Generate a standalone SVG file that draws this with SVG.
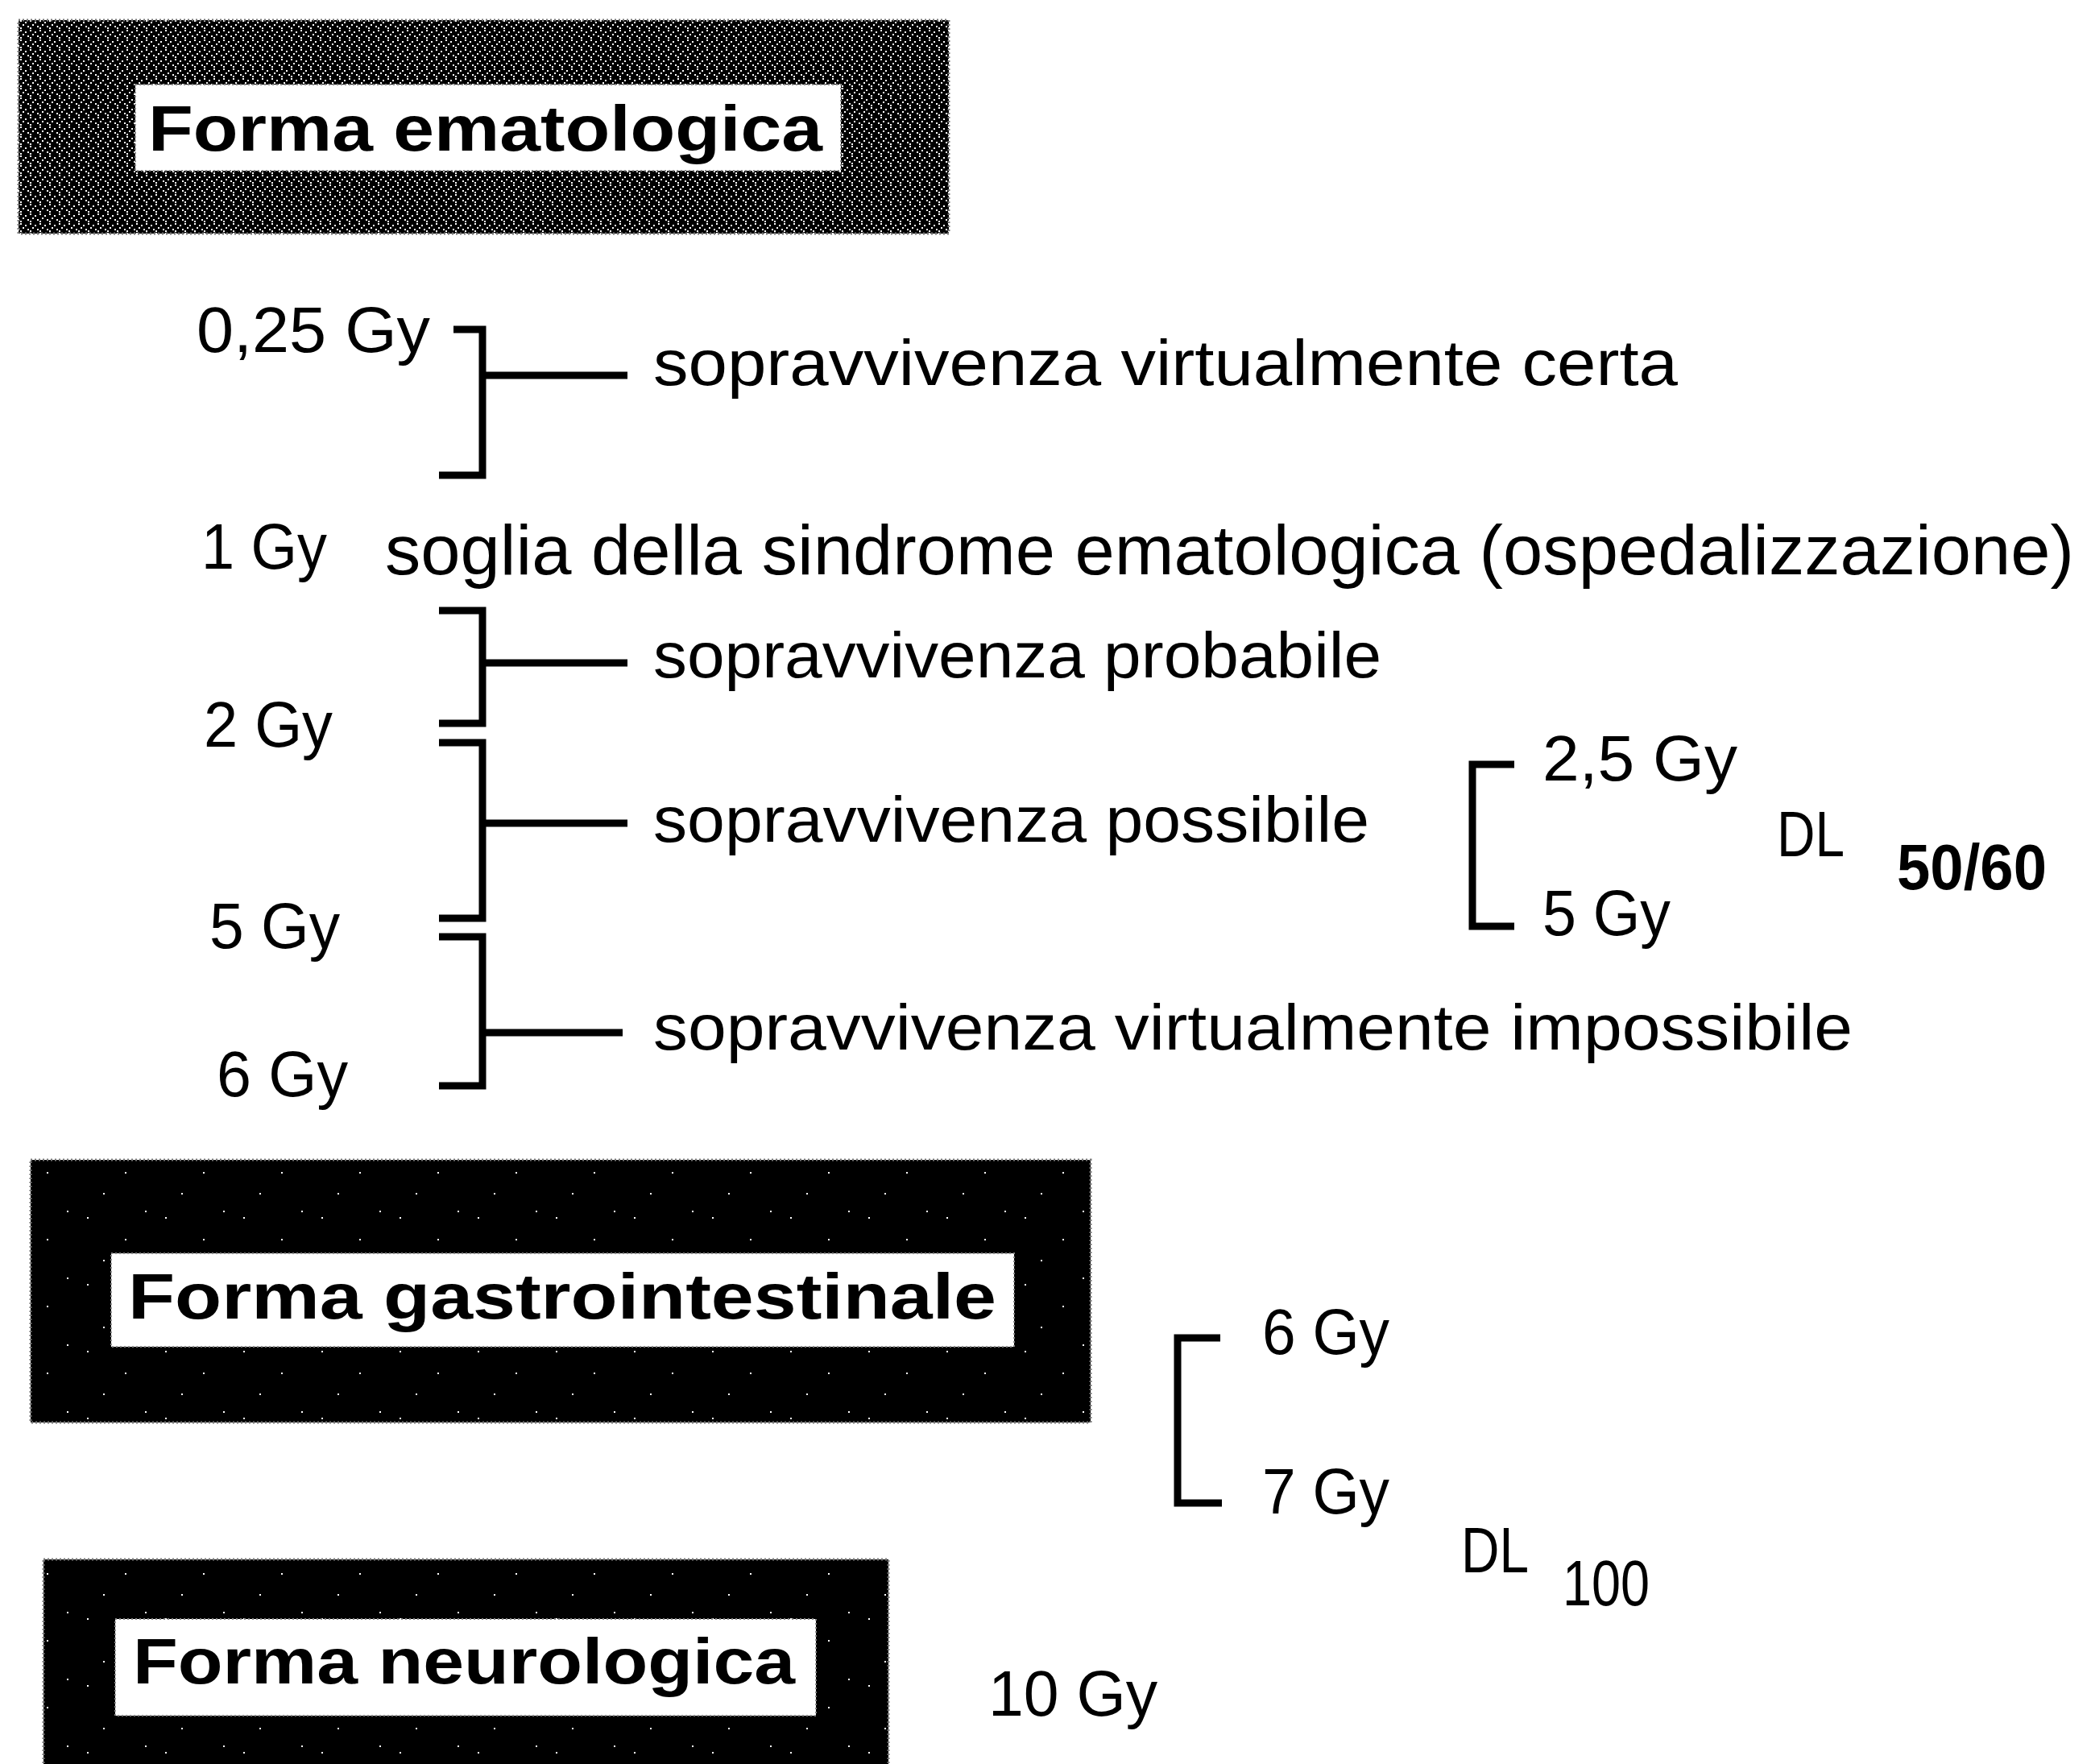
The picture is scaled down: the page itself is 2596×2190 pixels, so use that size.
<svg xmlns="http://www.w3.org/2000/svg" width="2596" height="2190" viewBox="0 0 2596 2190">
<defs>
<pattern id="tex1" width="12" height="12" patternUnits="userSpaceOnUse">
<rect width="12" height="12" fill="#000"/>
<rect x="1" y="1" width="2" height="2" fill="#fff"/>
<rect x="7" y="3" width="2" height="2" fill="#fff"/>
<rect x="4" y="6" width="2" height="2" fill="#fff"/>
<rect x="10" y="8" width="2" height="2" fill="#fff"/>
<rect x="1" y="10" width="2" height="2" fill="#fff"/>
</pattern>
<pattern id="tex2" width="97" height="83" patternUnits="userSpaceOnUse">
<rect width="97" height="83" fill="#000"/>
<rect x="11" y="17" width="2" height="2" fill="#fff"/>
<rect x="58" y="44" width="2" height="2" fill="#fff"/>
<rect x="83" y="9" width="2" height="2" fill="#fff"/>
<rect x="31" y="70" width="2" height="2" fill="#fff"/>
</pattern>
<style>
.t{font-family:"Liberation Sans",Arial,sans-serif;font-size:80px;fill:#000}
.s{font-size:88px}
.b{font-family:"Liberation Sans",Arial,sans-serif;font-size:80px;font-weight:bold;fill:#000}
.br{fill:none;stroke:#000;stroke-width:9;stroke-linecap:butt;stroke-linejoin:miter}
.ln{stroke:#000;stroke-width:9}
.edge{stroke:#777;stroke-width:3;stroke-dasharray:2 3}
.inner{fill:#fff;stroke:#888;stroke-width:2;stroke-dasharray:2 3}
</style>
</defs>
<rect width="2596" height="2190" fill="#fff"/>

<g id="box-ematologica">
<rect x="23" y="25" width="1155" height="265" fill="url(#tex1)" class="edge"/>
<rect x="168" y="105" width="876" height="107" class="inner"/>
<text class="b" x="184" y="187" textLength="837" lengthAdjust="spacingAndGlyphs">Forma ematologica</text>
</g>

<g id="box-gastrointestinale">
<rect x="38" y="1440" width="1316" height="326" fill="url(#tex2)" class="edge"/>
<rect x="138" y="1556" width="1121" height="116" class="inner"/>
<text class="b" x="159" y="1637" textLength="1078" lengthAdjust="spacingAndGlyphs">Forma gastrointestinale</text>
</g>

<g id="box-neurologica">
<rect x="54" y="1936" width="1049" height="260" fill="url(#tex2)" class="edge"/>
<rect x="143" y="2010" width="870" height="120" class="inner"/>
<text class="b" x="165" y="2090" textLength="822" lengthAdjust="spacingAndGlyphs">Forma neurologica</text>
</g>

<g id="connectors">
<path class="br" d="M563,409 H599 V590 H545"/>
<line class="ln" x1="599" y1="466" x2="779" y2="466"/>
<path class="br" d="M545,758 H599 V898 H545"/>
<line class="ln" x1="599" y1="823" x2="779" y2="823"/>
<path class="br" d="M545,922 H599 V1140 H545"/>
<line class="ln" x1="599" y1="1022" x2="779" y2="1022"/>
<path class="br" d="M545,1163 H599 V1348 H545"/>
<line class="ln" x1="599" y1="1282" x2="773" y2="1282"/>
<path class="br" d="M1880,949 H1828 V1150 H1880"/>
<path class="br" d="M1515,1661 H1462 V1866 H1517"/>
</g>

<g id="dose-025">
<text class="t" x="244" y="437" textLength="290" lengthAdjust="spacingAndGlyphs">0,25 Gy</text>
</g>
<g id="label-certa">
<text class="t" x="811" y="478" textLength="1272" lengthAdjust="spacingAndGlyphs">sopravvivenza virtualmente certa</text>
</g>
<g id="dose-1">
<text class="t" x="250" y="706" textLength="156" lengthAdjust="spacingAndGlyphs">1 Gy</text>
</g>
<g id="label-soglia">
<text class="t s" x="478" y="713" textLength="2097" lengthAdjust="spacingAndGlyphs">soglia della sindrome ematologica (ospedalizzazione)</text>
</g>
<g id="label-probabile">
<text class="t" x="811" y="841" textLength="904" lengthAdjust="spacingAndGlyphs">sopravvivenza probabile</text>
</g>
<g id="dose-2">
<text class="t" x="253" y="927" textLength="160" lengthAdjust="spacingAndGlyphs">2 Gy</text>
</g>
<g id="label-possibile">
<text class="t" x="811" y="1045" textLength="889" lengthAdjust="spacingAndGlyphs">sopravvivenza possibile</text>
</g>
<g id="dose-5">
<text class="t" x="260" y="1177" textLength="162" lengthAdjust="spacingAndGlyphs">5 Gy</text>
</g>
<g id="label-impossibile">
<text class="t" x="811" y="1303" textLength="1489" lengthAdjust="spacingAndGlyphs">sopravvivenza virtualmente impossibile</text>
</g>
<g id="dose-6">
<text class="t" x="269" y="1361" textLength="163" lengthAdjust="spacingAndGlyphs">6 Gy</text>
</g>

<g id="dl50">
<text class="t" x="1915" y="969" textLength="242" lengthAdjust="spacingAndGlyphs">2,5 Gy</text>
<text class="t" x="1915" y="1161" textLength="159" lengthAdjust="spacingAndGlyphs">5 Gy</text>
<text class="t" x="2206" y="1063" textLength="84" lengthAdjust="spacingAndGlyphs">DL</text>
<text class="t" x="2355" y="1104" textLength="186" lengthAdjust="spacingAndGlyphs" font-weight="bold">50/60</text>
</g>

<g id="dl100">
<text class="t" x="1567" y="1681" textLength="158" lengthAdjust="spacingAndGlyphs">6 Gy</text>
<text class="t" x="1567" y="1879" textLength="158" lengthAdjust="spacingAndGlyphs">7 Gy</text>
<text class="t" x="1814" y="1952" textLength="84" lengthAdjust="spacingAndGlyphs">DL</text>
<text class="t" x="1940" y="1993" textLength="108" lengthAdjust="spacingAndGlyphs">100</text>
</g>

<g id="dose-10">
<text class="t" x="1227" y="2130" textLength="210" lengthAdjust="spacingAndGlyphs">10 Gy</text>
</g>
</svg>
